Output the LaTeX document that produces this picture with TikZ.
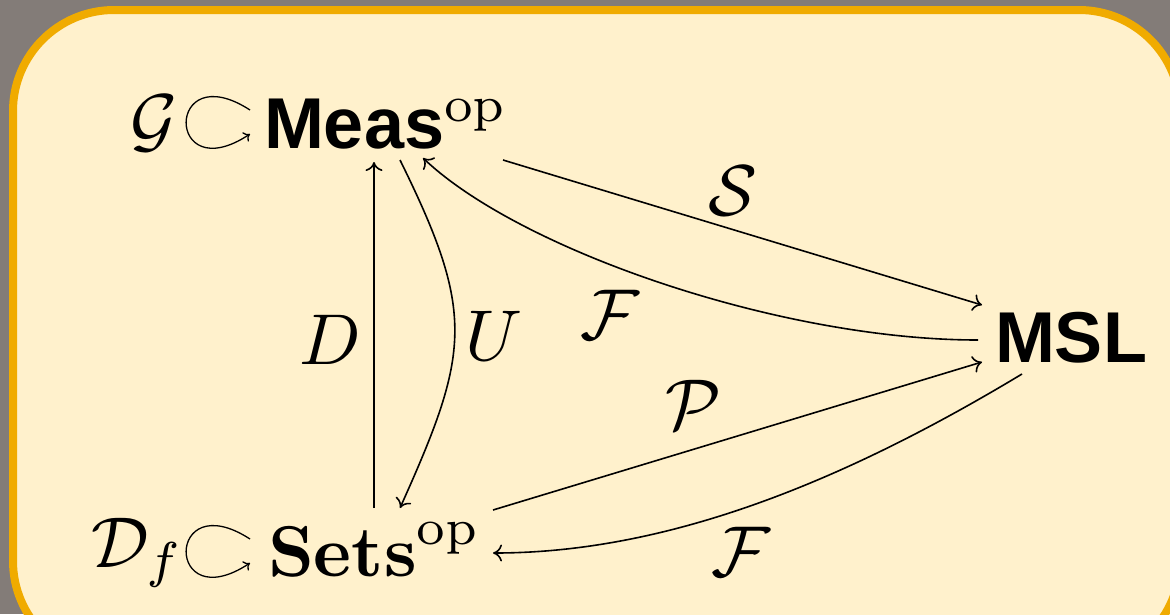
\documentclass[tikz,border=0pt]{standalone}
\usepackage[no-math]{fontspec}
\newfontfamily\helv{Liberation Sans}
\usetikzlibrary{arrows.meta}
\definecolor{bggray}{RGB}{131,124,120}
\definecolor{frameorange}{RGB}{240,171,0}
\definecolor{panel}{RGB}{255,241,204}
\begin{document}
\begin{tikzpicture}[x=1pt,y=-1pt,
  every node/.style={inner sep=0pt, outer sep=0pt, scale=7.2, font=\fontsize{10}{12}\selectfont},
  arr/.style={line width=1.6pt, -{To[length=9pt,width=17pt]}},
  loopa/.style={line width=1.3pt, -{To[length=6pt,width=11pt]}}]
\useasboundingbox (0,0) rectangle (1170,614);
\fill[bggray] (0,0) rectangle (1170,614);
\draw[frameorange, line width=8pt, fill=panel, rounded corners=101pt] (13,10) rectangle (1180,662);

% objects
\node[anchor=base west] (G) at (130,144) {$\mathcal{G}$};
\node[anchor=base west] (meas) at (264,148) {{\helv\bfseries Meas}$^{\mathrm{op}}$};
\node[anchor=base west] (msl) at (995,362) {\helv\bfseries MSL};
\node[anchor=base west] (Df) at (91,567) {$\mathcal{D}_f$};
\node[anchor=base west] (sets) at (268,576) {$\mathbf{Sets}^{\mathrm{op}}$};

% labels
\node (lD) at (330,340) {$D$};
\node (lU) at (494,336) {$U$};
\node (lF1) at (610,315) {$\mathcal{F}$};
\node (lS) at (733,191) {$\mathcal{S}$};
\node (lP) at (693,405) {$\mathcal{P}$};
\node (lF2) at (741,552) {$\mathcal{F}$};

% action loops
\draw[loopa] ([shift={(-14,-38)}]meas.base west) .. controls +(-85,-55) and +(-85,56) .. ([shift={(-14,-14)}]meas.base west);
\draw[loopa] ([shift={(-18,-37)}]sets.base west) .. controls +(-85,-55) and +(-85,56) .. ([shift={(-18,-13)}]sets.base west);

% connectors
\draw[arr] ([shift={(106,-68)}]sets.base west) -- ([shift={(110,14)}]meas.base west);
\draw[arr] ([shift={(136,12)}]meas.base west) .. controls +(76,154) and +(70,-156) .. ([shift={(132,-68)}]sets.base west);
\draw[arr] ([shift={(-17,-22)}]msl.base west) .. controls +(-198,0) and +(97,92) .. ([shift={(159,10)}]meas.base west);
\draw[arr] ([shift={(239,12)}]meas.base west) -- ([shift={(-13,-57)}]msl.base west);
\draw[arr] ([shift={(225,-66)}]sets.base west) -- ([shift={(-13,0)}]msl.base west);
\draw[arr] ([shift={(27,12)}]msl.base west) .. controls +(-171,103) and +(180,0) .. ([shift={(225,-23)}]sets.base west);
\end{tikzpicture}
\end{document}
